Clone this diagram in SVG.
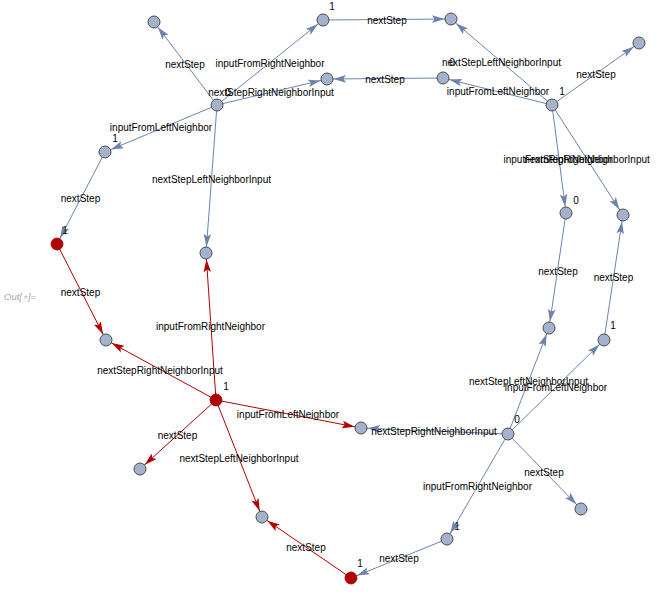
<svg xmlns="http://www.w3.org/2000/svg" width="657" height="595" viewBox="0 0 657 595">
<defs>
<style>
.e{stroke:#6c84ad;stroke-width:1;fill:none;marker-end:url(#ab)}
.r{stroke:#b30000;stroke-width:1;fill:none;marker-end:url(#ar)}
.n{fill:#a3b3cd;stroke:#4a4a4a;stroke-width:1}
.rn{fill:#b30000;stroke:#a00000;stroke-width:0.8}
text{font-family:"Liberation Sans",Arial,sans-serif;font-size:10px;fill:#000;text-anchor:middle}
.out{font-size:9.5px;fill:#a8a8a8;font-style:italic;text-anchor:start}
</style>
<marker id="ab" markerUnits="userSpaceOnUse" orient="auto" markerWidth="30" markerHeight="30" refX="0" refY="0" viewBox="-30 -15 30 30" overflow="visible">
<path d="M-6.5,0 L-19,-3.8 L-16.5,0 L-19,3.8 z" fill="#6c84ad"/>
</marker>
<marker id="ar" markerUnits="userSpaceOnUse" orient="auto" markerWidth="30" markerHeight="30" refX="0" refY="0" viewBox="-30 -15 30 30" overflow="visible">
<path d="M-6.5,0 L-19,-3.8 L-16.5,0 L-19,3.8 z" fill="#b30000"/>
</marker>
</defs>
<rect width="657" height="595" fill="#fff"/>
<text class="out" x="4" y="300">Out[∘]=</text>
<g id="connectors">
<line class="e" x1="217" y1="105" x2="154" y2="22"/>
<line class="e" x1="217" y1="105" x2="323" y2="20"/>
<line class="e" x1="217" y1="105" x2="327" y2="79"/>
<line class="e" x1="217" y1="105" x2="105" y2="152"/>
<line class="e" x1="217" y1="105" x2="206" y2="253"/>
<line class="e" x1="323" y1="20" x2="451" y2="19"/>
<line class="e" x1="443" y1="78" x2="327" y2="79"/>
<line class="e" x1="552" y1="105" x2="451" y2="19"/>
<line class="e" x1="552" y1="105" x2="443" y2="78"/>
<line class="e" x1="552" y1="105" x2="639" y2="43"/>
<line class="e" x1="552" y1="105" x2="566" y2="213"/>
<line class="e" x1="552" y1="105" x2="623" y2="215"/>
<line class="e" x1="105" y1="152" x2="57" y2="244"/>
<line class="e" x1="566" y1="213" x2="549" y2="328"/>
<line class="e" x1="604" y1="340" x2="623" y2="215"/>
<line class="e" x1="508" y1="434" x2="549" y2="328"/>
<line class="e" x1="508" y1="434" x2="604" y2="340"/>
<line class="e" x1="508" y1="434" x2="361" y2="428"/>
<line class="e" x1="508" y1="434" x2="581" y2="509"/>
<line class="e" x1="508" y1="434" x2="447" y2="539"/>
<line class="e" x1="447" y1="539" x2="351" y2="578"/>
<line class="r" x1="57" y1="244" x2="106" y2="340"/>
<line class="r" x1="216" y1="400" x2="206" y2="253"/>
<line class="r" x1="216" y1="400" x2="106" y2="340"/>
<line class="r" x1="216" y1="400" x2="361" y2="428"/>
<line class="r" x1="216" y1="400" x2="140" y2="469"/>
<line class="r" x1="216" y1="400" x2="262" y2="517"/>
<line class="r" x1="351" y1="578" x2="262" y2="517"/>
</g>
<g id="edge-labels">
<text x="185" y="67.5">nextStep</text>
<text x="270" y="66.5">inputFromRightNeighbor</text>
<text x="271" y="95.5">nextStepRightNeighborInput</text>
<text x="161" y="130.5">inputFromLeftNeighbor</text>
<text x="211.5" y="182.5">nextStepLeftNeighborInput</text>
<text x="387" y="23.5">nextStep</text>
<text x="385" y="82.5">nextStep</text>
<text x="501.5" y="65.5">nextStepLeftNeighborInput</text>
<text x="498" y="94.5">inputFromLeftNeighbor</text>
<text x="596" y="77.5">nextStep</text>
<text x="558" y="162.5">inputFromRightNeighbor</text>
<text x="587" y="162.5">nextStepRightNeighborInput</text>
<text x="80.5" y="201.5">nextStep</text>
<text x="80.5" y="295.5">nextStep</text>
<text x="558" y="274.5">nextStep</text>
<text x="613.5" y="280.5">nextStep</text>
<text x="210.5" y="329.5">inputFromRightNeighbor</text>
<text x="160" y="373.5">nextStepRightNeighborInput</text>
<text x="288" y="417.5">inputFromLeftNeighbor</text>
<text x="177.5" y="438.5">nextStep</text>
<text x="239" y="461.5">nextStepLeftNeighborInput</text>
<text x="528.5" y="384.5">nextStepLeftNeighborInput</text>
<text x="556" y="390.5">inputFromLeftNeighbor</text>
<text x="434" y="434.5">nextStepRightNeighborInput</text>
<text x="544" y="475.5">nextStep</text>
<text x="477.5" y="489.5">inputFromRightNeighbor</text>
<text x="399" y="561.5">nextStep</text>
<text x="306" y="550.5">nextStep</text>
</g>
<g id="nA"><circle class="n" cx="154" cy="22" r="6"/></g>
<g id="nB"><circle class="n" cx="323" cy="20" r="6"/><text x="332" y="9.5">1</text></g>
<g id="nC"><circle class="n" cx="451" cy="19" r="6"/></g>
<g id="nD"><circle class="n" cx="217" cy="105" r="6"/><text x="228" y="95.5">0</text></g>
<g id="nE"><circle class="n" cx="327" cy="79" r="6"/></g>
<g id="nF"><circle class="n" cx="443" cy="78" r="6"/><text x="452" y="65.5">0</text></g>
<g id="nG"><circle class="n" cx="552" cy="105" r="6"/><text x="562" y="94.5">1</text></g>
<g id="nH"><circle class="n" cx="639" cy="43" r="6"/></g>
<g id="nI"><circle class="n" cx="105" cy="152" r="6"/><text x="115" y="141.5">1</text></g>
<g id="nJ"><circle class="rn" cx="57" cy="244" r="6"/><text x="65" y="233.5">1</text></g>
<g id="nK"><circle class="n" cx="206" cy="253" r="6"/></g>
<g id="nL"><circle class="n" cx="566" cy="213" r="6"/><text x="576" y="203.5">0</text></g>
<g id="nM"><circle class="n" cx="623" cy="215" r="6"/></g>
<g id="nN"><circle class="n" cx="106" cy="340" r="6"/></g>
<g id="nO"><circle class="n" cx="549" cy="328" r="6"/></g>
<g id="nP"><circle class="n" cx="604" cy="340" r="6"/><text x="613" y="328.5">1</text></g>
<g id="nQ"><circle class="rn" cx="216" cy="400" r="6"/><text x="226" y="389.5">1</text></g>
<g id="nR"><circle class="n" cx="361" cy="428" r="6"/></g>
<g id="nS"><circle class="n" cx="508" cy="434" r="6"/><text x="517" y="422.5">0</text></g>
<g id="nT"><circle class="n" cx="140" cy="469" r="6"/></g>
<g id="nU"><circle class="n" cx="581" cy="509" r="6"/></g>
<g id="nV"><circle class="n" cx="262" cy="517" r="6"/></g>
<g id="nW"><circle class="n" cx="447" cy="539" r="6"/><text x="457" y="529.5">1</text></g>
<g id="nX"><circle class="rn" cx="351" cy="578" r="6"/><text x="360" y="566.5">1</text></g>
</svg>
